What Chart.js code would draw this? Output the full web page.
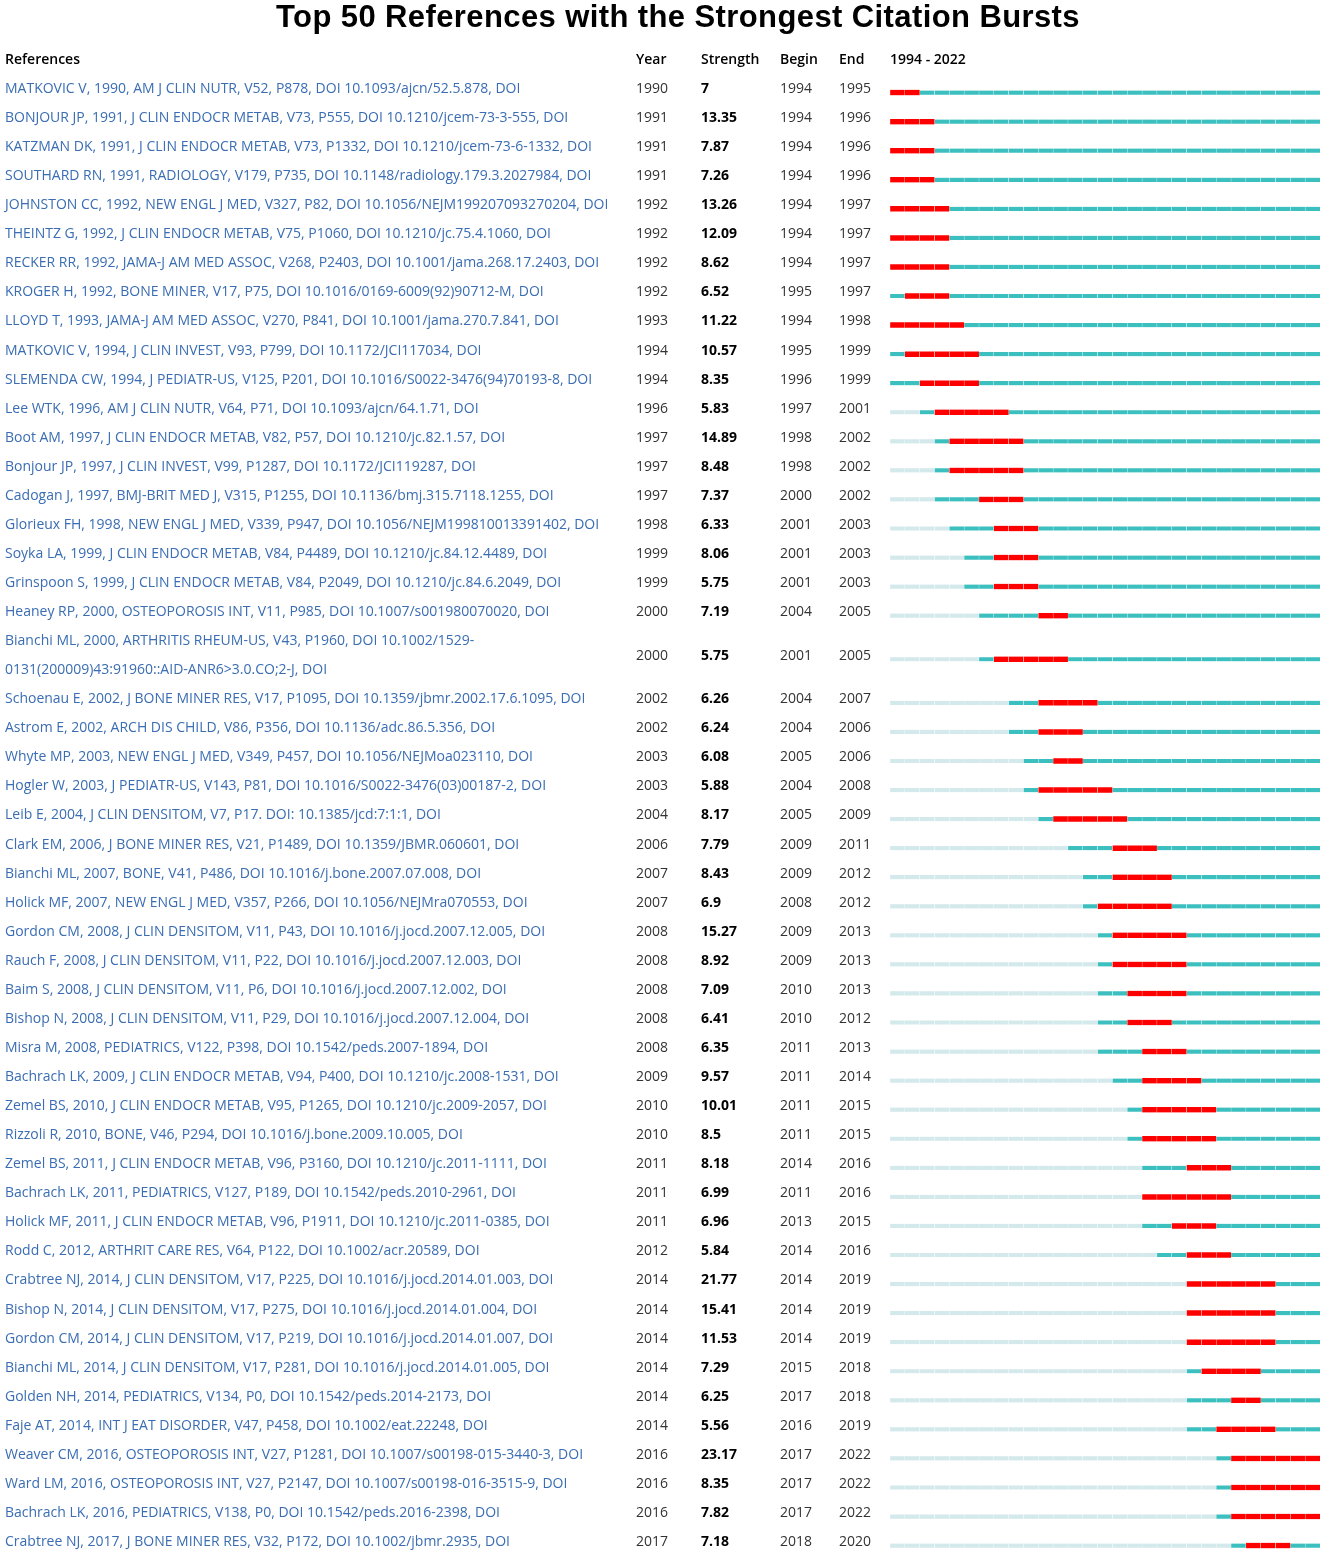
<!DOCTYPE html>
<html>
<head>
<meta charset="utf-8">
<script src="https://cdn.jsdelivr.net/npm/chart.js@4.4.0/dist/chart.umd.min.js"></script>
<style>
body { margin: 0; background: #fff; }
</style>
</head>
<body>
<canvas id="charts" width="1325" height="1554"></canvas>
<script>
var references = [
    'MATKOVIC V, 1990, AM J CLIN NUTR, V52, P878, DOI 10.1093/ajcn/52.5.878, DOI',
    'BONJOUR JP, 1991, J CLIN ENDOCR METAB, V73, P555, DOI 10.1210/jcem-73-3-555, DOI',
    'KATZMAN DK, 1991, J CLIN ENDOCR METAB, V73, P1332, DOI 10.1210/jcem-73-6-1332, DOI',
    'SOUTHARD RN, 1991, RADIOLOGY, V179, P735, DOI 10.1148/radiology.179.3.2027984, DOI',
    'JOHNSTON CC, 1992, NEW ENGL J MED, V327, P82, DOI 10.1056/NEJM199207093270204, DOI',
    'THEINTZ G, 1992, J CLIN ENDOCR METAB, V75, P1060, DOI 10.1210/jc.75.4.1060, DOI',
    'RECKER RR, 1992, JAMA-J AM MED ASSOC, V268, P2403, DOI 10.1001/jama.268.17.2403, DOI',
    'KROGER H, 1992, BONE MINER, V17, P75, DOI 10.1016/0169-6009(92)90712-M, DOI',
    'LLOYD T, 1993, JAMA-J AM MED ASSOC, V270, P841, DOI 10.1001/jama.270.7.841, DOI',
    'MATKOVIC V, 1994, J CLIN INVEST, V93, P799, DOI 10.1172/JCI117034, DOI',
    'SLEMENDA CW, 1994, J PEDIATR-US, V125, P201, DOI 10.1016/S0022-3476(94)70193-8, DOI',
    'Lee WTK, 1996, AM J CLIN NUTR, V64, P71, DOI 10.1093/ajcn/64.1.71, DOI',
    'Boot AM, 1997, J CLIN ENDOCR METAB, V82, P57, DOI 10.1210/jc.82.1.57, DOI',
    'Bonjour JP, 1997, J CLIN INVEST, V99, P1287, DOI 10.1172/JCI119287, DOI',
    'Cadogan J, 1997, BMJ-BRIT MED J, V315, P1255, DOI 10.1136/bmj.315.7118.1255, DOI',
    'Glorieux FH, 1998, NEW ENGL J MED, V339, P947, DOI 10.1056/NEJM199810013391402, DOI',
    'Soyka LA, 1999, J CLIN ENDOCR METAB, V84, P4489, DOI 10.1210/jc.84.12.4489, DOI',
    'Grinspoon S, 1999, J CLIN ENDOCR METAB, V84, P2049, DOI 10.1210/jc.84.6.2049, DOI',
    'Heaney RP, 2000, OSTEOPOROSIS INT, V11, P985, DOI 10.1007/s001980070020, DOI',
    'Bianchi ML, 2000, ARTHRITIS RHEUM-US, V43, P1960, DOI 10.1002/1529-\n0131(200009)43:91960::AID-ANR6>3.0.CO;2-J, DOI',
    'Schoenau E, 2002, J BONE MINER RES, V17, P1095, DOI 10.1359/jbmr.2002.17.6.1095, DOI',
    'Astrom E, 2002, ARCH DIS CHILD, V86, P356, DOI 10.1136/adc.86.5.356, DOI',
    'Whyte MP, 2003, NEW ENGL J MED, V349, P457, DOI 10.1056/NEJMoa023110, DOI',
    'Hogler W, 2003, J PEDIATR-US, V143, P81, DOI 10.1016/S0022-3476(03)00187-2, DOI',
    'Leib E, 2004, J CLIN DENSITOM, V7, P17. DOI: 10.1385/jcd:7:1:1, DOI',
    'Clark EM, 2006, J BONE MINER RES, V21, P1489, DOI 10.1359/JBMR.060601, DOI',
    'Bianchi ML, 2007, BONE, V41, P486, DOI 10.1016/j.bone.2007.07.008, DOI',
    'Holick MF, 2007, NEW ENGL J MED, V357, P266, DOI 10.1056/NEJMra070553, DOI',
    'Gordon CM, 2008, J CLIN DENSITOM, V11, P43, DOI 10.1016/j.jocd.2007.12.005, DOI',
    'Rauch F, 2008, J CLIN DENSITOM, V11, P22, DOI 10.1016/j.jocd.2007.12.003, DOI',
    'Baim S, 2008, J CLIN DENSITOM, V11, P6, DOI 10.1016/j.jocd.2007.12.002, DOI',
    'Bishop N, 2008, J CLIN DENSITOM, V11, P29, DOI 10.1016/j.jocd.2007.12.004, DOI',
    'Misra M, 2008, PEDIATRICS, V122, P398, DOI 10.1542/peds.2007-1894, DOI',
    'Bachrach LK, 2009, J CLIN ENDOCR METAB, V94, P400, DOI 10.1210/jc.2008-1531, DOI',
    'Zemel BS, 2010, J CLIN ENDOCR METAB, V95, P1265, DOI 10.1210/jc.2009-2057, DOI',
    'Rizzoli R, 2010, BONE, V46, P294, DOI 10.1016/j.bone.2009.10.005, DOI',
    'Zemel BS, 2011, J CLIN ENDOCR METAB, V96, P3160, DOI 10.1210/jc.2011-1111, DOI',
    'Bachrach LK, 2011, PEDIATRICS, V127, P189, DOI 10.1542/peds.2010-2961, DOI',
    'Holick MF, 2011, J CLIN ENDOCR METAB, V96, P1911, DOI 10.1210/jc.2011-0385, DOI',
    'Rodd C, 2012, ARTHRIT CARE RES, V64, P122, DOI 10.1002/acr.20589, DOI',
    'Crabtree NJ, 2014, J CLIN DENSITOM, V17, P225, DOI 10.1016/j.jocd.2014.01.003, DOI',
    'Bishop N, 2014, J CLIN DENSITOM, V17, P275, DOI 10.1016/j.jocd.2014.01.004, DOI',
    'Gordon CM, 2014, J CLIN DENSITOM, V17, P219, DOI 10.1016/j.jocd.2014.01.007, DOI',
    'Bianchi ML, 2014, J CLIN DENSITOM, V17, P281, DOI 10.1016/j.jocd.2014.01.005, DOI',
    'Golden NH, 2014, PEDIATRICS, V134, P0, DOI 10.1542/peds.2014-2173, DOI',
    'Faje AT, 2014, INT J EAT DISORDER, V47, P458, DOI 10.1002/eat.22248, DOI',
    'Weaver CM, 2016, OSTEOPOROSIS INT, V27, P1281, DOI 10.1007/s00198-015-3440-3, DOI',
    'Ward LM, 2016, OSTEOPOROSIS INT, V27, P2147, DOI 10.1007/s00198-016-3515-9, DOI',
    'Bachrach LK, 2016, PEDIATRICS, V138, P0, DOI 10.1542/peds.2016-2398, DOI',
    'Crabtree NJ, 2017, J BONE MINER RES, V32, P172, DOI 10.1002/jbmr.2935, DOI'
];
var years = [1990, 1991, 1991, 1991, 1992, 1992, 1992, 1992, 1993, 1994,
    1994, 1996, 1997, 1997, 1997, 1998, 1999, 1999, 2000, 2000,
    2002, 2002, 2003, 2003, 2004, 2006, 2007, 2007, 2008, 2008,
    2008, 2008, 2008, 2009, 2010, 2010, 2011, 2011, 2011, 2012,
    2014, 2014, 2014, 2014, 2014, 2014, 2016, 2016, 2016, 2017];
var strengths = [7, 13.35, 7.87, 7.26, 13.26, 12.09, 8.62, 6.52, 11.22, 10.57,
    8.35, 5.83, 14.89, 8.48, 7.37, 6.33, 8.06, 5.75, 7.19, 5.75,
    6.26, 6.24, 6.08, 5.88, 8.17, 7.79, 8.43, 6.9, 15.27, 8.92,
    7.09, 6.41, 6.35, 9.57, 10.01, 8.5, 8.18, 6.99, 6.96, 5.84,
    21.77, 15.41, 11.53, 7.29, 6.25, 5.56, 23.17, 8.35, 7.82, 7.18];
var begins = [1994, 1994, 1994, 1994, 1994, 1994, 1994, 1995, 1994, 1995,
    1996, 1997, 1998, 1998, 2000, 2001, 2001, 2001, 2004, 2001,
    2004, 2004, 2005, 2004, 2005, 2009, 2009, 2008, 2009, 2009,
    2010, 2010, 2011, 2011, 2011, 2011, 2014, 2011, 2013, 2014,
    2014, 2014, 2014, 2015, 2017, 2016, 2017, 2017, 2017, 2018];
var ends = [1995, 1996, 1996, 1996, 1997, 1997, 1997, 1997, 1998, 1999,
    1999, 2001, 2002, 2002, 2002, 2003, 2003, 2003, 2005, 2005,
    2007, 2006, 2006, 2008, 2009, 2011, 2012, 2012, 2013, 2013,
    2013, 2012, 2013, 2014, 2015, 2015, 2016, 2016, 2015, 2016,
    2019, 2019, 2019, 2018, 2018, 2019, 2022, 2022, 2022, 2020];
var headers = ['References', 'Year', 'Strength', 'Begin', 'End', '1994 - 2022'];
var firstYear = 1994;
var lastYear = 2022;

// row slots: a reference written on two lines takes two slots
var rowPos = [];
var cursor = 1;
references.forEach(function (r) {
    var lines = r.split('\n').length;
    rowPos.push(cursor + (lines - 1) / 2);
    cursor += lines;
});

var redCells = [], tealCells = [], lightCells = [];
references.forEach(function (r, i) {
    for (var y = firstYear; y <= lastYear; y++) {
        var cell = { x: [y, y + 1], y: rowPos[i] };
        if (y >= begins[i] && y <= ends[i]) redCells.push(cell);
        else if (y < years[i]) lightCells.push(cell);
        else tealCells.push(cell);
    }
});

var rowH = 29.06;
var firstBarY = 92.6;
var canvasH = 1554;
var textLift = 3.6;
var colX = [5, 636, 701, 780, 839, 890];
var textFont = '"Open Sans"';

var tablePlugin = {
    id: 'burstTable',
    afterDraw: function (chart) {
        var ctx = chart.ctx;
        var ys = chart.scales.y;
        ctx.save();
        ctx.textBaseline = 'middle';
        ctx.textAlign = 'center';
        ctx.fillStyle = '#000';
        ctx.font = 'bold 31px "Liberation Sans"';
        ctx.letterSpacing = '0.4px';
        ctx.fillText('Top 50 References with the Strongest Citation Bursts', 678, 18);
        ctx.letterSpacing = '0px';

        ctx.textAlign = 'left';
        ctx.font = '600 14px ' + textFont;
        var hy = ys.getPixelForValue(0) - textLift;
        headers.forEach(function (h, k) { ctx.fillText(h, colX[k], hy); });

        references.forEach(function (r, i) {
            var cy = ys.getPixelForValue(rowPos[i]) - textLift;
            var lines = r.split('\n');
            ctx.font = '14px ' + textFont;
            ctx.fillStyle = '#3a6db3';
            lines.forEach(function (l, k) {
                ctx.fillText(l, colX[0], cy + (k - (lines.length - 1) / 2) * rowH);
            });
            ctx.fillStyle = '#333';
            ctx.fillText(String(years[i]), colX[1], cy);
            ctx.fillText(String(begins[i]), colX[3], cy);
            ctx.fillText(String(ends[i]), colX[4], cy);
            ctx.font = 'bold 14px ' + textFont;
            ctx.fillStyle = '#000';
            ctx.fillText(String(strengths[i]), colX[2], cy);
        });
        ctx.restore();
    }
};

var ctx = document.getElementById('charts');
new Chart(ctx, {
    type: 'bar',
    data: {
        datasets: [{
            label: 'burst',
            data: redCells,
            backgroundColor: '#ff0000',
            barThickness: 5.5
        }, {
            label: 'after publication',
            data: tealCells,
            backgroundColor: '#3cbfbf',
            barThickness: 4.2
        }, {
            label: 'before publication',
            data: lightCells,
            backgroundColor: '#d3e9eb',
            barThickness: 4.2
        }]
    },
    options: {
        indexAxis: 'y',
        responsive: false,
        animation: false,
        grouped: false,
        borderColor: 'rgba(255,255,255,0.9)',
        borderWidth: { left: 0.5, right: 0, top: 0, bottom: 0 },
        borderSkipped: false,
        layout: { padding: { left: 890, right: 5, top: 0, bottom: 0 } },
        scales: {
            x: { type: 'linear', min: firstYear, max: lastYear + 1, display: false, offset: false },
            y: {
                type: 'linear', reverse: true, display: false, offset: false,
                grid: { offset: false },
                min: -firstBarY / rowH + 1,
                max: (canvasH - firstBarY) / rowH + 1
            }
        },
        plugins: { legend: { display: false }, tooltip: { enabled: false } }
    },
    plugins: [tablePlugin]
});
</script>
</body>
</html>
